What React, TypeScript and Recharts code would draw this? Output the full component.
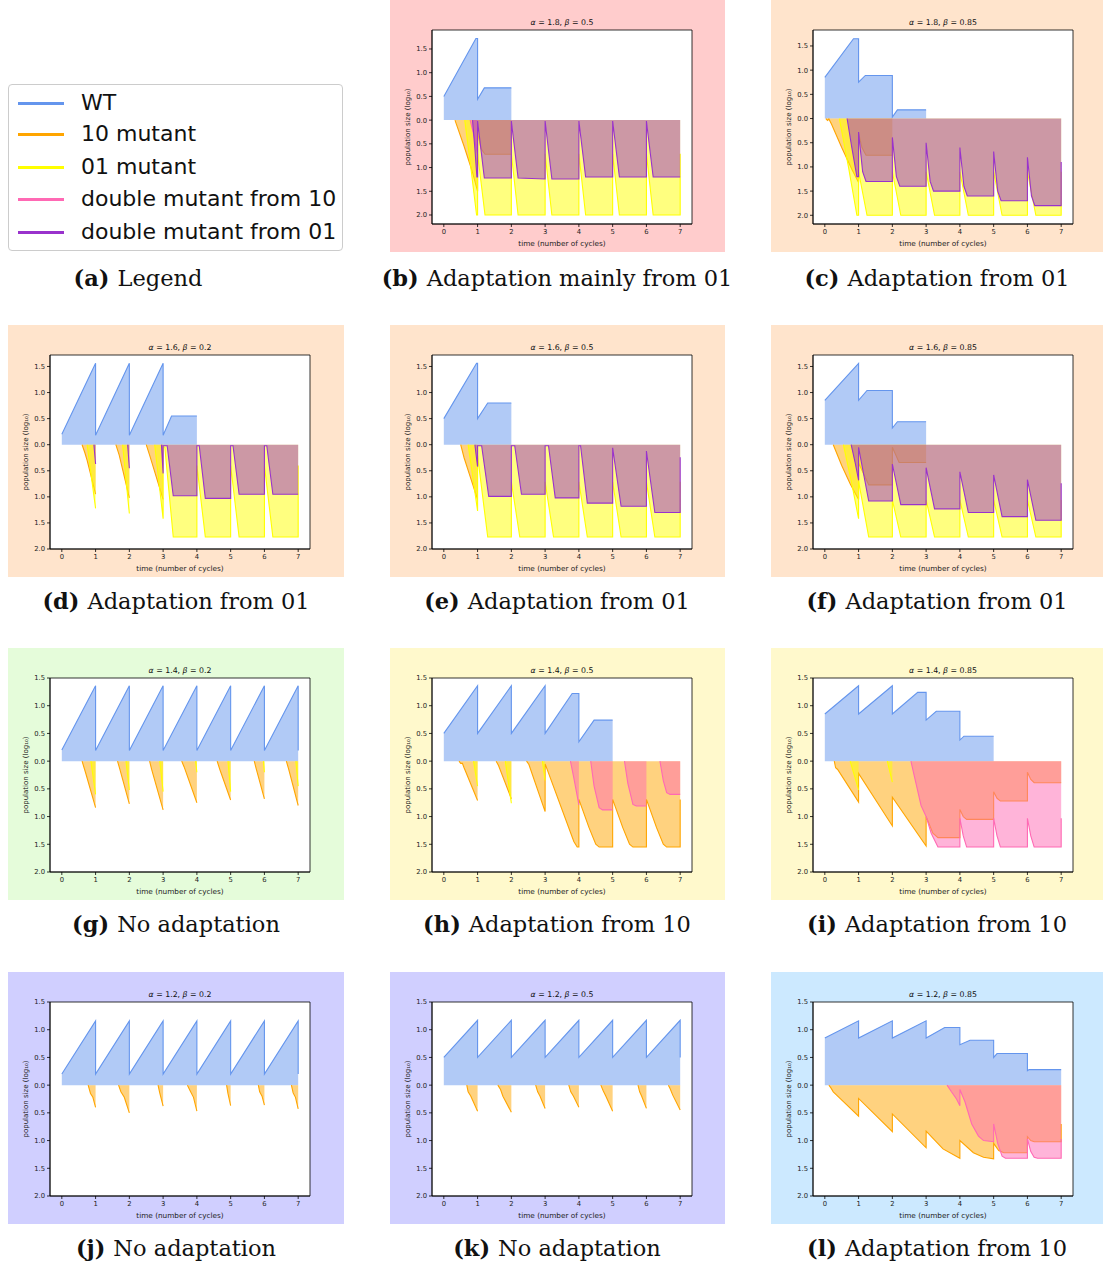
import React from "react";
import { ComposedChart, Area, XAxis, YAxis, CartesianGrid, ReferenceArea } from "recharts";

type Pt = [number, number | null];

const WT_COLOR = "#6495ED";
const M10_COLOR = "#FFA500";
const M01_COLOR = "#FFFF00";
const D10_COLOR = "#FF69B4";
const D01_COLOR = "#9932CC";

const X_TICKS = [0, 1, 2, 3, 4, 5, 6, 7];
const Y_TICKS = [-2, -1.5, -1, -0.5, 0, 0.5, 1, 1.5];

// (b) alpha 1.8, beta 0.5
const B_WT: Pt[] = [[0, 0.5], [0.95, 1.72], [1, 1.72], [1, 0.44], [1.2, 0.68], [2, 0.68]];
const B_M10: Pt[] = [[0.33, 0], [0.6, -0.55], [0.85, -1.1], [1, -1.5], [1, -0.26], [1.1, -0.6], [1.22, -0.72], [2, -0.72]];
const B_M01: Pt[] = [[0.62, 0], [0.8, -1.0], [0.97, -2.0], [1, -2.0], [1, -0.71], [1.22, -2.0], [2, -2.0], [2, -0.71], [2.2, -2.0], [3, -2.0], [3, -0.71], [3.2, -2.0], [4, -2.0], [4, -0.71], [4.2, -2.0], [5, -2.0], [5, -0.71], [5.2, -2.0], [6, -2.0], [6, -0.71], [6.2, -2.0], [7, -2.0], [7, -0.71]];
const B_D10: Pt[] = [[0.78, 0], [0.9, -0.35], [1, -0.72]];
const B_D01: Pt[] = [[0.85, 0], [0.92, -0.6], [0.98, -1.2], [1, -1.2], [1, -0.02], [1.2, -1.22], [2, -1.22], [2, -0.02], [2.2, -1.22], [3, -1.24], [3, -0.02], [3.2, -1.24], [4, -1.24], [4, -0.02], [4.2, -1.2], [5, -1.2], [5, -0.02], [5.2, -1.2], [6, -1.2], [6, -0.02], [6.2, -1.2], [7, -1.2]];

// (c) alpha 1.8, beta 0.85
const C_WT: Pt[] = [[0, 0.85], [0.85, 1.65], [1, 1.65], [1, 0.75], [1.2, 0.89], [2, 0.89], [2, 0.03], [2.15, 0.18], [3, 0.18]];
const C_M10: Pt[] = [[0.03, 0], [0.08, -0.04], [0.12, -0.01], [0.2, -0.12], [0.5, -0.6], [0.8, -1.05], [1, -1.32], [1, -0.3], [1.1, -0.6], [1.22, -0.76], [2, -0.76]];
const C_M01: Pt[] = [[0.43, 0], [0.7, -1.0], [0.95, -2.0], [1, -2.0], [1, -1.1], [1.25, -2.0], [2, -2.0], [2, -1.1], [2.25, -2.0], [3, -2.0], [3, -1.1], [3.25, -2.0], [4, -2.0], [4, -1.1], [4.25, -2.0], [5, -2.0], [5, -1.1], [5.25, -2.0], [6, -2.0], [6, -1.1], [6.25, -2.0], [7, -2.0], [7, -1.1]];
const C_D01: Pt[] = [[0.66, 0], [0.8, -0.6], [0.95, -1.2], [1, -1.2], [1, -0.28], [1.12, -1.1], [1.22, -1.3], [2, -1.3], [2, -0.39], [2.12, -1.2], [2.22, -1.4], [3, -1.4], [3, -0.5], [3.12, -1.3], [3.22, -1.5], [4, -1.5], [4, -0.6], [4.12, -1.4], [4.22, -1.6], [5, -1.6], [5, -0.68], [5.12, -1.5], [5.22, -1.7], [6, -1.7], [6, -0.8], [6.12, -1.6], [6.22, -1.8], [7, -1.8], [7, -0.9]];

// (d) alpha 1.6, beta 0.2
const D_WT: Pt[] = [[0, 0.2], [1, 1.56], [1, 0.18], [2, 1.56], [2, 0.18], [3, 1.56], [3, 0.18], [3.25, 0.55], [4, 0.55]];
const D_M10: Pt[] = [[0.6, 0], [0.68, -0.15], [0.75, -0.3], [1, -0.95], [1, null], [1.6, 0], [1.7, -0.2], [2, -1.02], [2, null], [2.5, 0], [2.6, -0.2], [3, -1.05]];
const D_M01: Pt[] = [[0.75, 0], [1, -1.22], [1, null], [1.8, 0], [2, -1.32], [2, null], [2.75, 0], [3, -1.42], [3, -0.04], [3.05, -0.05], [3.3, -1.77], [4, -1.77], [4, -0.4], [4.25, -1.77], [5, -1.77], [5, -0.4], [5.25, -1.77], [6, -1.77], [6, -0.4], [6.25, -1.77], [7, -1.77], [7, -0.4]];
const D_D01: Pt[] = [[0.95, 0], [1, -0.37], [1, null], [1.95, 0], [2, -0.45], [2, null], [2.95, 0], [3, -0.55], [3, -0.02], [3.12, -0.02], [3.3, -0.98], [4, -0.98], [4, -0.02], [4.07, -0.02], [4.25, -1.03], [5, -1.03], [5, -0.02], [5.07, -0.02], [5.25, -0.95], [6, -0.95], [6, -0.02], [6.07, -0.02], [6.25, -0.95], [7, -0.95]];

// (e) alpha 1.6, beta 0.5
const E_WT: Pt[] = [[0, 0.5], [0.97, 1.56], [1, 1.56], [1, 0.5], [1.3, 0.8], [2, 0.8]];
const E_M10: Pt[] = [[0.5, 0], [0.6, -0.25], [0.8, -0.65], [1, -1.05]];
const E_M01: Pt[] = [[0.72, 0], [1, -1.27], [1, -0.21], [1.3, -1.77], [2, -1.77], [2, -0.71], [2.25, -1.77], [3, -1.77], [3, -0.71], [3.25, -1.77], [4, -1.77], [4, -0.71], [4.25, -1.77], [5, -1.77], [5, -0.71], [5.25, -1.77], [6, -1.77], [6, -0.71], [6.25, -1.77], [7, -1.77], [7, -0.71]];
const E_D01: Pt[] = [[0.92, 0], [1, -0.42], [1, -0.02], [1.12, -0.02], [1.33, -0.99], [2, -0.99], [2, -0.02], [2.1, -0.02], [2.3, -0.95], [3, -0.95], [3, -0.02], [3.1, -0.02], [3.3, -1.02], [4, -1.02], [4, -0.02], [4.05, -0.02], [4.25, -1.12], [5, -1.12], [5, -0.06], [5.25, -1.18], [6, -1.18], [6, -0.12], [6.25, -1.3], [7, -1.3], [7, -0.24]];

// (f) alpha 1.6, beta 0.85
const F_WT: Pt[] = [[0, 0.85], [1, 1.56], [1, 0.85], [1.25, 1.04], [2, 1.04], [2, 0.32], [2.15, 0.44], [3, 0.44]];
const F_M10: Pt[] = [[0.25, 0], [0.5, -0.4], [0.75, -0.75], [1, -1.05], [1, -0.35], [1.3, -0.77], [2, -0.77], [2, -0.05], [2.2, -0.34], [3, -0.34]];
const F_M01: Pt[] = [[0.55, 0], [0.8, -0.75], [1, -1.42], [1, -0.7], [1.3, -1.77], [2, -1.77], [2, -1.06], [2.25, -1.77], [3, -1.77], [3, -1.06], [3.25, -1.77], [4, -1.77], [4, -1.06], [4.25, -1.77], [5, -1.77], [5, -1.06], [5.25, -1.77], [6, -1.77], [6, -1.06], [6.25, -1.77], [7, -1.77], [7, -1.06]];
const F_D01: Pt[] = [[0.78, 0], [0.9, -0.35], [1, -0.68], [1, -0.05], [1.3, -1.08], [2, -1.08], [2, -0.37], [2.25, -1.15], [3, -1.15], [3, -0.44], [3.25, -1.23], [4, -1.23], [4, -0.52], [4.25, -1.3], [5, -1.3], [5, -0.58], [5.25, -1.38], [6, -1.38], [6, -0.67], [6.25, -1.45], [7, -1.45], [7, -0.74]];

// (g) alpha 1.4, beta 0.2
const G_WT: Pt[] = [[0, 0.2], [1, 1.36], [1, 0.19], [2, 1.36], [2, 0.19], [3, 1.36], [3, 0.19], [4, 1.36], [4, 0.19], [5, 1.36], [5, 0.19], [6, 1.36], [6, 0.19], [7, 1.36], [7, 0.19]];
const G_M10: Pt[] = [[0.6, 0], [0.7, -0.2], [1, -0.84], [1, null], [1.65, 0], [1.72, -0.15], [2, -0.77], [2, null], [2.6, 0], [2.66, -0.15], [3, -0.88], [3, null], [3.55, 0], [3.62, -0.1], [4, -0.75], [4, null], [4.6, 0], [4.68, -0.15], [5, -0.7], [5, null], [5.7, 0], [5.75, -0.12], [6, -0.68], [6, null], [6.65, 0], [6.72, -0.15], [7, -0.8]];
const G_M01: Pt[] = [[0.86, 0], [1, -0.6], [1, null], [1.9, 0], [2, -0.52], [2, null], [2.9, 0], [3, -0.55], [3, null], [3.96, 0], [4, -0.2], [4, null], [4.92, 0], [5, -0.55], [5, null], [5.97, 0], [6, -0.2], [6, null], [6.93, 0], [7, -0.45]];

// (h) alpha 1.4, beta 0.5
const H_WT: Pt[] = [[0, 0.5], [1, 1.36], [1, 0.5], [2, 1.36], [2, 0.5], [3, 1.36], [3, 0.5], [3.8, 1.22], [4, 1.22], [4, 0.35], [4.45, 0.74], [5, 0.74]];
const H_M10: Pt[] = [[0.45, 0], [0.5, -0.04], [0.55, -0.04], [0.6, -0.12], [1, -0.71], [1, null], [1.55, 0], [1.62, -0.08], [2, -0.68], [2, null], [2.45, 0], [2.52, -0.06], [3, -0.91], [3, -0.05], [3.85, -1.45], [3.95, -1.55], [4, -1.55], [4, -0.69], [4.3, -1.2], [4.5, -1.5], [4.6, -1.55], [5, -1.55], [5, -0.69], [5.3, -1.2], [5.5, -1.5], [5.6, -1.55], [6, -1.55], [6, -0.69], [6.3, -1.2], [6.5, -1.5], [6.6, -1.55], [7, -1.55], [7, -0.69]];
const H_M01: Pt[] = [[0.88, 0], [1, -0.45], [1, null], [1.82, 0], [2, -0.76], [2, null], [2.92, 0], [3, -0.35]];
const H_D10: Pt[] = [[3.75, 0], [3.85, -0.3], [4, -0.79], [4, null], [4.35, 0], [4.45, -0.45], [4.6, -0.84], [4.7, -0.88], [5, -0.88], [5, null], [5.35, 0], [5.45, -0.4], [5.6, -0.78], [5.7, -0.81], [6, -0.81], [6, null], [6.4, 0], [6.5, -0.35], [6.6, -0.57], [6.7, -0.6], [7, -0.6]];

// (i) alpha 1.4, beta 0.85
const I_WT: Pt[] = [[0, 0.85], [1, 1.36], [1, 0.85], [2, 1.36], [2, 0.85], [2.75, 1.24], [3, 1.24], [3, 0.74], [3.3, 0.9], [4, 0.9], [4, 0.38], [4.12, 0.45], [5, 0.45]];
const I_M10: Pt[] = [[0.28, 0], [0.32, -0.12], [0.38, -0.15], [1, -0.74], [1, -0.22], [2, -1.17], [2, -0.65], [3, -1.53], [3, -1.0], [3.2, -1.3], [3.35, -1.38], [4, -1.38], [4, -0.87], [4.1, -1.0], [4.2, -1.05], [5, -1.05], [5, -0.55], [5.1, -0.67], [5.2, -0.72], [6, -0.72], [6, -0.2], [6.1, -0.33], [6.2, -0.39], [7, -0.39]];
const I_M01: Pt[] = [[0.75, 0], [1, -0.52], [1, null], [1.85, 0], [2, -0.38]];
const I_D10: Pt[] = [[2.55, 0], [2.7, -0.4], [2.85, -0.8], [3, -1.0], [3.15, -1.3], [3.35, -1.55], [4, -1.55], [4, -1.03], [4.1, -1.35], [4.2, -1.55], [5, -1.55], [5, -1.03], [5.1, -1.35], [5.2, -1.55], [6, -1.55], [6, -1.03], [6.1, -1.35], [6.2, -1.55], [7, -1.55], [7, -1.03]];

// (j) alpha 1.2, beta 0.2
const J_WT: Pt[] = [[0, 0.2], [1, 1.16], [1, 0.2], [2, 1.16], [2, 0.2], [3, 1.16], [3, 0.2], [4, 1.16], [4, 0.2], [5, 1.16], [5, 0.2], [6, 1.16], [6, 0.2], [7, 1.16], [7, 0.2]];
const J_M10: Pt[] = [[0.78, 0], [0.85, -0.15], [0.92, -0.22], [1, -0.4], [1, null], [1.68, 0], [1.75, -0.12], [1.85, -0.22], [2, -0.5], [2, null], [2.85, 0], [2.9, -0.14], [3, -0.38], [3, null], [3.72, 0], [3.8, -0.1], [3.9, -0.22], [4, -0.47], [4, null], [4.88, 0], [4.92, -0.15], [5, -0.37], [5, null], [5.82, 0], [5.86, -0.12], [5.93, -0.2], [6, -0.36], [6, null], [6.8, 0], [6.85, -0.14], [6.92, -0.22], [7, -0.43]];

// (k) alpha 1.2, beta 0.5
const K_WT: Pt[] = [[0, 0.5], [1, 1.17], [1, 0.5], [2, 1.17], [2, 0.5], [3, 1.17], [3, 0.5], [4, 1.17], [4, 0.5], [5, 1.17], [5, 0.5], [6, 1.17], [6, 0.5], [7, 1.17], [7, 0.5]];
const K_M10: Pt[] = [[0.68, 0], [0.72, -0.12], [0.8, -0.2], [1, -0.47], [1, null], [1.6, 0], [1.68, -0.08], [1.75, -0.2], [2, -0.49], [2, null], [2.72, 0], [2.78, -0.12], [2.85, -0.2], [3, -0.42], [3, null], [3.7, 0], [3.76, -0.12], [3.84, -0.2], [4, -0.4], [4, null], [4.65, 0], [4.72, -0.1], [4.8, -0.2], [5, -0.47], [5, null], [5.75, 0], [5.8, -0.12], [5.86, -0.2], [6, -0.42], [6, null], [6.65, 0], [6.7, -0.06], [6.78, -0.18], [7, -0.45]];

// (l) alpha 1.2, beta 0.85
const L_WT: Pt[] = [[0, 0.85], [1, 1.16], [1, 0.85], [2, 1.16], [2, 0.85], [3, 1.16], [3, 0.85], [3.55, 1.04], [4, 1.04], [4, 0.73], [4.3, 0.81], [5, 0.81], [5, 0.5], [5.1, 0.57], [6, 0.57], [6, 0.26], [6.05, 0.28], [7, 0.28]];
const L_M10: Pt[] = [[0.12, 0], [0.18, -0.05], [0.25, -0.12], [0.35, -0.18], [1, -0.56], [1, -0.24], [2, -0.84], [2, -0.52], [3, -1.13], [3, -0.83], [3.5, -1.15], [4, -1.32], [4, -1.0], [4.4, -1.22], [4.7, -1.3], [5, -1.33], [5, -1.05], [5.15, -1.18], [5.3, -1.22], [6, -1.22], [6, -0.93], [6.1, -1.0], [6.2, -1.02], [7, -1.02], [7, -0.7]];
const L_D10: Pt[] = [[3.62, 0], [3.75, -0.12], [3.9, -0.25], [4, -0.37], [4, -0.08], [4.15, -0.3], [4.35, -0.7], [4.55, -0.92], [4.7, -1.0], [5, -1.02], [5, -0.7], [5.12, -1.05], [5.25, -1.28], [5.35, -1.32], [6, -1.32], [6, -0.97], [6.1, -1.2], [6.2, -1.3], [6.3, -1.32], [7, -1.32], [7, -0.97]];

const LEGEND_ITEMS = [
  { label: "WT", color: WT_COLOR },
  { label: "10 mutant", color: M10_COLOR },
  { label: "01 mutant", color: M01_COLOR },
  { label: "double mutant from 10", color: D10_COLOR },
  { label: "double mutant from 01", color: D01_COLOR },
];

const BG_PINK = "#FFCCCC";
const BG_PEACH = "#FFE4CC";
const BG_GREEN = "#E5FCDA";
const BG_YELLOW = "#FFF9CC";
const BG_LAVENDER = "#D0CFFF";
const BG_BLUE = "#CCE9FF";

const COL_X = [8, 390, 771];
const COL_W = [336, 335, 332];
const ROW_Y = [0, 325, 648, 972];
const CAPTION_Y = [278, 601, 924, 1248];
const CAPTION_CX = [176, 557, 937];

interface PanelDef {
  tag: string;
  caption: string;
  alpha: string;
  beta: string;
  col: number;
  row: number;
  bg: string;
  yDomain: [number, number];
  wt: Pt[];
  m10?: Pt[];
  m01?: Pt[];
  d10?: Pt[];
  d01?: Pt[];
}

const PANELS: PanelDef[] = [
  { tag: "b", caption: "Adaptation mainly from 01", alpha: "1.8", beta: "0.5", col: 1, row: 0, bg: BG_PINK, yDomain: [-2.19, 1.9], wt: B_WT, m10: B_M10, m01: B_M01, d10: B_D10, d01: B_D01 },
  { tag: "c", caption: "Adaptation from 01", alpha: "1.8", beta: "0.85", col: 2, row: 0, bg: BG_PEACH, yDomain: [-2.18, 1.83], wt: C_WT, m10: C_M10, m01: C_M01, d01: C_D01 },
  { tag: "d", caption: "Adaptation from 01", alpha: "1.6", beta: "0.2", col: 0, row: 1, bg: BG_PEACH, yDomain: [-2, 1.72], wt: D_WT, m10: D_M10, m01: D_M01, d01: D_D01 },
  { tag: "e", caption: "Adaptation from 01", alpha: "1.6", beta: "0.5", col: 1, row: 1, bg: BG_PEACH, yDomain: [-2, 1.72], wt: E_WT, m10: E_M10, m01: E_M01, d01: E_D01 },
  { tag: "f", caption: "Adaptation from 01", alpha: "1.6", beta: "0.85", col: 2, row: 1, bg: BG_PEACH, yDomain: [-2, 1.72], wt: F_WT, m10: F_M10, m01: F_M01, d01: F_D01 },
  { tag: "g", caption: "No adaptation", alpha: "1.4", beta: "0.2", col: 0, row: 2, bg: BG_GREEN, yDomain: [-2, 1.5], wt: G_WT, m10: G_M10, m01: G_M01 },
  { tag: "h", caption: "Adaptation from 10", alpha: "1.4", beta: "0.5", col: 1, row: 2, bg: BG_YELLOW, yDomain: [-2, 1.5], wt: H_WT, m10: H_M10, m01: H_M01, d10: H_D10 },
  { tag: "i", caption: "Adaptation from 10", alpha: "1.4", beta: "0.85", col: 2, row: 2, bg: BG_YELLOW, yDomain: [-2, 1.5], wt: I_WT, m10: I_M10, m01: I_M01, d10: I_D10 },
  { tag: "j", caption: "No adaptation", alpha: "1.2", beta: "0.2", col: 0, row: 3, bg: BG_LAVENDER, yDomain: [-2, 1.5], wt: J_WT, m10: J_M10 },
  { tag: "k", caption: "No adaptation", alpha: "1.2", beta: "0.5", col: 1, row: 3, bg: BG_LAVENDER, yDomain: [-2, 1.5], wt: K_WT, m10: K_M10 },
  { tag: "l", caption: "Adaptation from 10", alpha: "1.2", beta: "0.85", col: 2, row: 3, bg: BG_BLUE, yDomain: [-2, 1.5], wt: L_WT, m10: L_M10, d10: L_D10 },
];

const PANEL_H = 252;
const PLOT_LEFT = 42;
const PLOT_W = 260;
const X_DOMAIN: [number, number] = [-0.35, 7.35];

function toRows(pts: Pt[]) {
  return pts.map(([x, y]) => ({ x, y }));
}

function formatTick(v: number): string {
  return Math.abs(v).toFixed(1);
}

function Panel({ p }: { p: PanelDef }) {
  const w = COL_W[p.col];
  const series = [
    { key: "wt", pts: p.wt, color: WT_COLOR },
    { key: "m10", pts: p.m10, color: M10_COLOR },
    { key: "m01", pts: p.m01, color: M01_COLOR },
    { key: "d10", pts: p.d10, color: D10_COLOR },
    { key: "d01", pts: p.d01, color: D01_COLOR },
  ].filter((s) => s.pts);

  return (
    <div
      style={{
        position: "absolute",
        left: COL_X[p.col],
        top: ROW_Y[p.row],
        width: w,
        height: PANEL_H,
        background: p.bg,
        fontFamily: "'DejaVu Sans', sans-serif",
      }}
    >
      <ComposedChart
        width={w}
        height={PANEL_H}
        margin={{ top: 30, right: w - PLOT_LEFT - PLOT_W, bottom: 6, left: 12 }}
      >
        <CartesianGrid horizontal={false} vertical={false} fill="#ffffff" />
        <XAxis
          type="number"
          dataKey="x"
          domain={X_DOMAIN}
          ticks={X_TICKS}
          allowDataOverflow
          height={22}
          tickSize={3}
          tickMargin={2}
          tick={{ fontSize: 6.8, fill: "#222" }}
          axisLine={{ stroke: "#000", strokeWidth: 0.8 }}
          tickLine={{ stroke: "#000", strokeWidth: 0.8 }}
          label={{ value: "time (number of cycles)", position: "insideBottom", offset: 0, fontSize: 7.3, fill: "#222" }}
        />
        <YAxis
          type="number"
          domain={p.yDomain}
          ticks={Y_TICKS}
          allowDataOverflow
          width={30}
          tickSize={3}
          tickMargin={2}
          tickFormatter={formatTick}
          tick={{ fontSize: 6.8, fill: "#222" }}
          axisLine={{ stroke: "#000", strokeWidth: 0.8 }}
          tickLine={{ stroke: "#000", strokeWidth: 0.8 }}
          label={{
            value: "population size (log\u2081\u2080)",
            angle: -90,
            position: "insideLeft",
            offset: 6,
            fontSize: 7,
            fill: "#222",
            style: { textAnchor: "middle" },
          }}
        />
        {series.map((s) => (
          <Area
            key={s.key}
            data={toRows(s.pts as Pt[])}
            dataKey="y"
            type="linear"
            baseValue={0}
            stroke={s.color}
            strokeWidth={1.1}
            fill={s.color}
            fillOpacity={0.5}
            connectNulls={false}
            dot={false}
            activeDot={false}
            isAnimationActive={false}
          />
        ))}
        <ReferenceArea
          x1={X_DOMAIN[0]}
          x2={X_DOMAIN[1]}
          y1={p.yDomain[0]}
          y2={p.yDomain[1]}
          fill="none"
          fillOpacity={0}
          stroke="#000"
          strokeWidth={0.8}
          ifOverflow="visible"
        />
      </ComposedChart>
      <div
        style={{
          position: "absolute",
          left: PLOT_LEFT,
          width: PLOT_W,
          top: 18,
          textAlign: "center",
          fontSize: 7.8,
          lineHeight: "10px",
          color: "#111",
        }}
      >
        <i>α</i> = {p.alpha}, <i>β</i> = {p.beta}
      </div>
    </div>
  );
}

function Caption({ tag, text, cx, cy }: { tag: string; text: string; cx: number; cy: number }) {
  return (
    <div
      style={{
        position: "absolute",
        left: cx - 250,
        width: 500,
        top: cy - 15,
        height: 30,
        lineHeight: "30px",
        textAlign: "center",
        fontFamily: "'DejaVu Serif', serif",
        fontSize: 22.5,
        color: "#111",
        whiteSpace: "nowrap",
      }}
    >
      <b style={{ marginRight: 8 }}>({tag})</b>
      {text}
    </div>
  );
}

function LegendBox() {
  const rowCenters = [18, 49, 82, 114, 147];
  return (
    <div
      style={{
        position: "absolute",
        left: 8,
        top: 84,
        width: 333,
        height: 165,
        border: "1px solid #cccccc",
        borderRadius: 4,
        background: "#fff",
        fontFamily: "'DejaVu Sans', sans-serif",
      }}
    >
      {LEGEND_ITEMS.map((item, i) => (
        <div
          key={item.label}
          style={{ position: "absolute", left: 0, top: rowCenters[i] - 15, height: 30, display: "flex", alignItems: "center" }}
        >
          <span style={{ display: "inline-block", marginLeft: 9, width: 46, height: 3, background: item.color }} />
          <span style={{ marginLeft: 17, fontSize: 22, color: "#111", lineHeight: "30px" }}>{item.label}</span>
        </div>
      ))}
    </div>
  );
}

export default function App() {
  return (
    <div style={{ position: "absolute", left: 0, top: 0, width: 1103, height: 1267, background: "#fff", overflow: "hidden" }}>
      <LegendBox />
      <Caption tag="a" text="Legend" cx={138} cy={CAPTION_Y[0]} />
      {PANELS.map((p) => (
        <React.Fragment key={p.tag}>
          <Panel p={p} />
          <Caption tag={p.tag} text={p.caption} cx={CAPTION_CX[p.col]} cy={CAPTION_Y[p.row]} />
        </React.Fragment>
      ))}
    </div>
  );
}
